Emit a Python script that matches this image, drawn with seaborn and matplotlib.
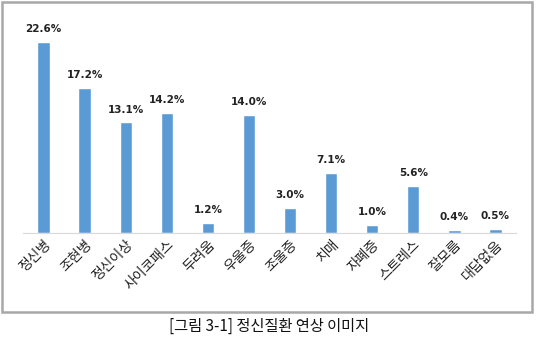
import matplotlib
matplotlib.use("Agg")
import matplotlib.pyplot as plt
import seaborn as sns
import pandas as pd
from matplotlib.patches import Rectangle

categories = ["정신병", "조현병", "정신이상", "사이코패스", "두려움", "우울증",
              "조울증", "치매", "자폐증", "스트레스", "잘모름", "대답없음"]
values = [22.6, 17.2, 13.1, 14.2, 1.2, 14.0, 3.0, 7.1, 1.0, 5.6, 0.4, 0.5]
caption = "[그림 3-1] 정신질환 연상 이미지"

sns.set_style("white")
plt.rcParams['font.family'] = ['Noto Sans CJK KR', 'DejaVu Sans']

df = pd.DataFrame({"cat": categories, "val": values})

fig = plt.figure(figsize=(5.38, 3.45), dpi=100)
ax = fig.add_axes([23/538, 1-233/345, (516-23)/538, (233-15)/345])
sns.barplot(data=df, x="cat", y="val", color="#5B9BD5", width=0.3, ax=ax, saturation=1)
ax.set_ylim(0, 25.8)
ax.set_xlim(-0.5, len(categories)-0.5)
for s in ["top", "right", "left"]:
    ax.spines[s].set_visible(False)
ax.spines["bottom"].set_color("#d9d9d9")
ax.set_yticks([])
ax.set_xlabel("")
ax.set_ylabel("")
ax.tick_params(axis="x", length=0, pad=3)
ax.set_xticks(range(len(categories)))
ax.set_xticklabels(categories, rotation=45, ha="right", rotation_mode="anchor", fontsize=10, color="#222222")
for i, v in enumerate(values):
    ax.text(i, v + 0.9, f"{v:.1f}%", ha="center", va="bottom", fontsize=7.5,
            fontweight="bold", color="#222222", family=["DejaVu Sans"])

fig.patches.append(Rectangle((2/538, 1-312/345), 530/538, 310/345, transform=fig.transFigure,
                             fill=False, edgecolor="#a8a8a8", linewidth=1.8))
fig.text(0.5, 1-326/345, caption, ha="center", va="center", fontsize=11, color="#111111")
fig.savefig("out.png", dpi=100)
